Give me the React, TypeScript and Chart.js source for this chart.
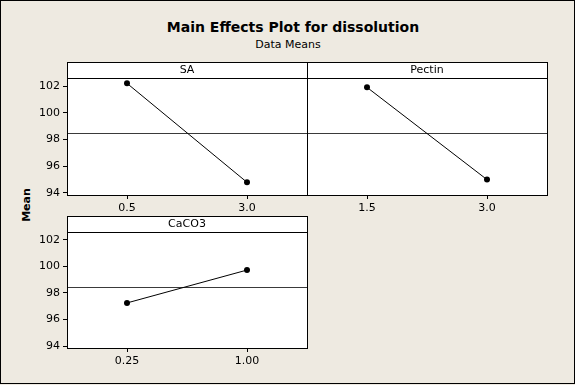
import React, { useEffect, useRef } from 'react';
import { Chart, registerables } from 'chart.js';
Chart.register(...registerables);

// ---- data ----
const saLevels = ['0.5', '3.0'];
const saMeans = [102.2, 94.8];
const pectinLevels = ['1.5', '3.0'];
const pectinMeans = [101.9, 95.0];
const caco3Levels = ['0.25', '1.00'];
const caco3Means = [97.25, 99.73];
const overallMean = 98.47;
const yTickValues = [94, 96, 98, 100, 102];
const yMin = 93.85;
const yMax = 102.6;

const FONT = '"DejaVu Sans", Verdana, sans-serif';
const BG = '#EEEAE1';

const stripPlugin = {
  id: 'strip',
  beforeDatasetsDraw(chart: any) {
    const { ctx, chartArea: a } = chart;
    const L = Math.round(a.left);
    const R = Math.round(a.right);
    const T = Math.round(a.top);
    const B = Math.round(a.bottom);
    const S = T - 16;
    ctx.save();
    ctx.fillStyle = '#fff';
    ctx.fillRect(L, S, R - L, B - S);
    // reference line (overall mean)
    const ym = Math.round(chart.scales.y.getPixelForValue(overallMean)) + 0.5;
    ctx.strokeStyle = '#3a3a3a';
    ctx.lineWidth = 1;
    ctx.beginPath();
    ctx.moveTo(L, ym);
    ctx.lineTo(R, ym);
    ctx.stroke();
    // frame
    ctx.strokeStyle = '#000';
    ctx.strokeRect(L + 0.5, S + 0.5, R - L, B - S);
    ctx.beginPath();
    ctx.moveTo(L, T + 0.5);
    ctx.lineTo(R + 1, T + 0.5);
    ctx.stroke();
    // strip label
    ctx.fillStyle = '#000';
    ctx.font = `11px ${FONT}`;
    ctx.textAlign = 'center';
    ctx.textBaseline = 'middle';
    ctx.fillText(chart.options.plugins.strip.label, (L + R) / 2, S + 8.5);
    ctx.restore();
  },
};

type PanelProps = {
  name: string;
  levels: string[];
  means: number[];
  showY: boolean;
  left: number;
  top: number;
  width: number;
  height: number;
  pad: { left: number; right: number; top: number; bottom: number };
  yWidth: number;
  xHeight: number;
};

function Panel(p: PanelProps) {
  const ref = useRef<HTMLCanvasElement | null>(null);
  useEffect(() => {
    if (!ref.current) return;
    const chart = new Chart(ref.current, {
      type: 'line',
      data: {
        labels: p.levels,
        datasets: [
          {
            data: p.means,
            borderColor: '#000',
            borderWidth: 1,
            backgroundColor: '#000',
            pointBackgroundColor: '#000',
            pointBorderColor: '#000',
            pointRadius: 3,
            pointBorderWidth: 0,
            tension: 0,
          },
        ],
      },
      options: {
        animation: false,
        responsive: false,
        devicePixelRatio: 1,
        layout: { padding: p.pad, autoPadding: false },
        events: [],
        plugins: {
          legend: { display: false },
          tooltip: { enabled: false },
          title: { display: false },
          strip: { label: p.name },
        } as any,
        scales: {
          x: {
            type: 'category',
            offset: true,
            grid: {
              offset: false,
              drawOnChartArea: false,
              drawTicks: true,
              tickLength: 4,
              color: '#000',
              tickColor: '#000',
            },
            border: { display: false },
            ticks: {
              font: { family: FONT, size: 11 },
              color: '#000',
              padding: 3,
              maxRotation: 0,
              autoSkip: false,
            },
            afterFit: (s: any) => {
              s.height = p.xHeight;
              s.paddingLeft = 0;
              s.paddingRight = 0;
            },
          },
          y: {
            display: p.showY,
            min: yMin,
            max: yMax,
            afterBuildTicks: (s: any) => {
              s.ticks = yTickValues.map((v) => ({ value: v }));
            },
            afterFit: (s: any) => {
              s.width = p.yWidth;
              s.paddingTop = 0;
              s.paddingBottom = 0;
            },
            grid: {
              drawOnChartArea: false,
              drawTicks: true,
              tickLength: 4,
              color: '#000',
              tickColor: '#000',
            },
            border: { display: false },
            ticks: {
              font: { family: FONT, size: 11 },
              color: '#000',
              padding: 3,
            },
          },
        },
      },
      plugins: [stripPlugin],
    } as any);
    return () => chart.destroy();
  }, []);
  return (
    <canvas
      ref={ref}
      width={p.width}
      height={p.height}
      style={{ position: 'absolute', left: p.left, top: p.top, width: p.width, height: p.height }}
    />
  );
}

export default function App() {
  return (
    <div
      style={{
        position: 'fixed',
        left: 0,
        top: 0,
        width: 575,
        height: 385,
        background: BG,
        overflow: 'hidden',
      }}
    >
      <div
        style={{
          position: 'absolute',
          left: 0,
          top: 0,
          width: 575,
          height: 384,
          boxSizing: 'border-box',
          border: '1px solid #000',
        }}
      />
      <div
        style={{
          position: 'absolute',
          left: 0,
          top: 19,
          width: 586,
          textAlign: 'center',
          font: `bold 14px ${FONT}`,
          lineHeight: '16px',
          color: '#000',
        }}
      >
        Main Effects Plot for dissolution
      </div>
      <div
        style={{
          position: 'absolute',
          left: 0,
          top: 38,
          width: 576,
          textAlign: 'center',
          font: `11px ${FONT}`,
          lineHeight: '13px',
          color: '#000',
        }}
      >
        Data Means
      </div>
      <div
        style={{
          position: 'absolute',
          left: 25.5,
          top: 205,
          transform: 'translate(-50%, -50%) rotate(-90deg)',
          font: `bold 11px ${FONT}`,
          lineHeight: '13px',
          color: '#000',
          whiteSpace: 'nowrap',
        }}
      >
        Mean
      </div>
      <Panel
        name="SA"
        levels={saLevels}
        means={saMeans}
        showY={true}
        left={0}
        top={50}
        width={310}
        height={170}
        pad={{ left: 0, right: 3, top: 28, bottom: 0 }}
        yWidth={67}
        xHeight={25}
      />
      <Panel
        name="Pectin"
        levels={pectinLevels}
        means={pectinMeans}
        showY={false}
        left={300}
        top={50}
        width={260}
        height={170}
        pad={{ left: 7, right: 13, top: 28, bottom: 0 }}
        yWidth={0}
        xHeight={25}
      />
      <Panel
        name="CaCO3"
        levels={caco3Levels}
        means={caco3Means}
        showY={true}
        left={0}
        top={204}
        width={310}
        height={176}
        pad={{ left: 0, right: 3, top: 28, bottom: 0 }}
        yWidth={67}
        xHeight={32}
      />
    </div>
  );
}
